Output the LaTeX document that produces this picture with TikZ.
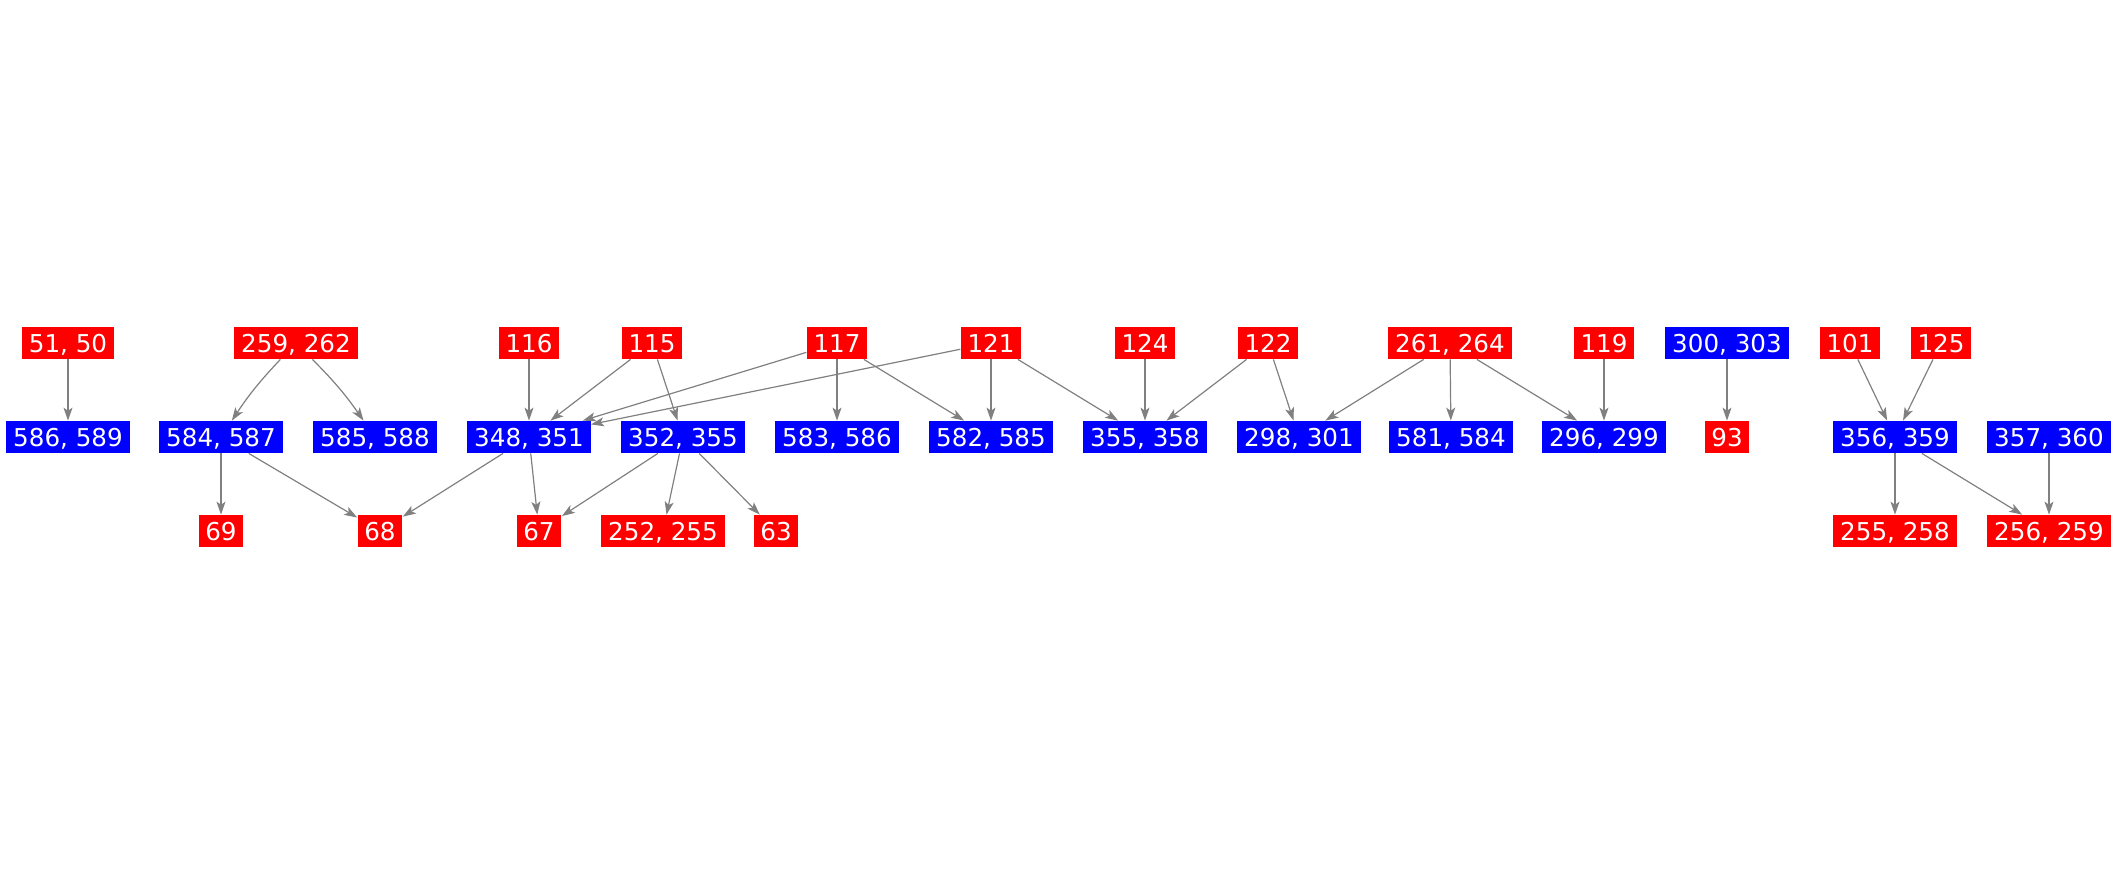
\documentclass[tikz,border=0pt]{standalone}
\usepackage{fontspec}
\setmainfont{DejaVu Sans}
\usetikzlibrary{arrows.meta}
\definecolor{NodeRed}{RGB}{255,0,0}
\definecolor{NodeBlue}{RGB}{0,0,255}
\definecolor{LinkGray}{RGB}{128,128,128}

\begin{document}
\begin{tikzpicture}[x=0.5pt,y=0.5pt,>={Stealth[length=6.5pt,width=4.5pt,inset=1.6pt]},
    box/.style={text=white,font=\fontsize{12.3}{14}\selectfont,inner xsep=3.4pt,inner ysep=3.15pt,text height=9.7pt,text depth=0pt},
    rbox/.style={box,fill=NodeRed},
    bbox/.style={box,fill=NodeBlue},
    link/.style={->,LinkGray,line width=0.6pt}]
  \useasboundingbox (0,0) rectangle (2117,-875);
  % top row
  \node[rbox] (n5150) at (68,-343) {51, 50};
  \node[rbox] (n259262) at (296,-343) {259, 262};
  \node[rbox] (n116) at (529,-343) {116};
  \node[rbox] (n115) at (652,-343) {115};
  \node[rbox] (n117) at (837,-343) {117};
  \node[rbox] (n121) at (991,-343) {121};
  \node[rbox] (n124) at (1145,-343) {124};
  \node[rbox] (n122) at (1268,-343) {122};
  \node[rbox] (n261264) at (1450,-343) {261, 264};
  \node[rbox] (n119) at (1604,-343) {119};
  \node[bbox] (n300303) at (1727,-343) {300, 303};
  \node[rbox] (n101) at (1850,-343) {101};
  \node[rbox] (n125) at (1941,-343) {125};
  % middle row
  \node[bbox] (n586589) at (68,-437) {586, 589};
  \node[bbox] (n584587) at (221,-437) {584, 587};
  \node[bbox] (n585588) at (375,-437) {585, 588};
  \node[bbox] (n348351) at (529,-437) {348, 351};
  \node[bbox] (n352355) at (683,-437) {352, 355};
  \node[bbox] (n583586) at (837,-437) {583, 586};
  \node[bbox] (n582585) at (991,-437) {582, 585};
  \node[bbox] (n355358) at (1145,-437) {355, 358};
  \node[bbox] (n298301) at (1299,-437) {298, 301};
  \node[bbox] (n581584) at (1451,-437) {581, 584};
  \node[bbox] (n296299) at (1604,-437) {296, 299};
  \node[rbox] (n93) at (1727,-437) {93};
  \node[bbox] (n356359) at (1895,-437) {356, 359};
  \node[bbox] (n357360) at (2049,-437) {357, 360};
  % bottom row
  \node[rbox] (n69) at (221,-531) {69};
  \node[rbox] (n68) at (380,-531) {68};
  \node[rbox] (n67) at (539,-531) {67};
  \node[rbox] (n252255) at (663,-531) {252, 255};
  \node[rbox] (n63) at (776,-531) {63};
  \node[rbox] (n255258) at (1895,-531) {255, 258};
  \node[rbox] (n256259) at (2049,-531) {256, 259};
  % links
  \draw[link] (n5150) -- (n586589);
  \draw[link] (n259262) to[bend right=5] (n584587);
  \draw[link] (n259262) to[bend left=5] (n585588);
  \draw[link] (n584587) -- (n69);
  \draw[link] (n584587) -- (n68);
  \draw[link] (n116) -- (n348351);
  \draw[link] (n115) -- (n348351);
  \draw[link] (n115) -- (n352355);
  \draw[link] (n117) -- (n348351);
  \draw[link] (n117) -- (n583586);
  \draw[link] (n117) -- (n582585);
  \draw[link] (n121) -- (n348351);
  \draw[link] (n121) -- (n582585);
  \draw[link] (n121) -- (n355358);
  \draw[link] (n348351) -- (n68);
  \draw[link] (n348351) -- (n67);
  \draw[link] (n352355) -- (n67);
  \draw[link] (n352355) -- (n252255);
  \draw[link] (n352355) -- (n63);
  \draw[link] (n124) -- (n355358);
  \draw[link] (n122) -- (n355358);
  \draw[link] (n122) -- (n298301);
  \draw[link] (n261264) -- (n298301);
  \draw[link] (n261264) -- (n581584);
  \draw[link] (n261264) -- (n296299);
  \draw[link] (n119) -- (n296299);
  \draw[link] (n300303) -- (n93);
  \draw[link] (n101) -- (n356359);
  \draw[link] (n125) -- (n356359);
  \draw[link] (n356359) -- (n255258);
  \draw[link] (n356359) -- (n256259);
  \draw[link] (n357360) -- (n256259);
\end{tikzpicture}
\end{document}
